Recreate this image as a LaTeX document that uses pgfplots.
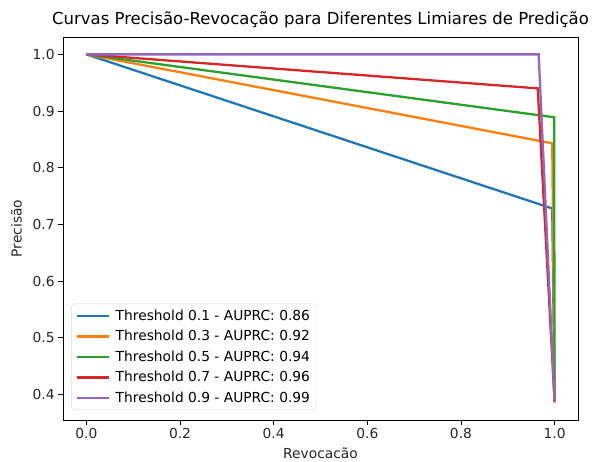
\documentclass[border=0pt]{standalone}
\usepackage{pgfplots}
\pgfplotsset{compat=1.18}
\usetikzlibrary{calc}
\usepackage{fontspec}
\setmainfont{DejaVu Sans}
\definecolor{tabblue}{HTML}{1F77B4}
\definecolor{taborange}{HTML}{FF7F0E}
\definecolor{tabgreen}{HTML}{2CA02C}
\definecolor{tabred}{HTML}{D62728}
\definecolor{tabpurple}{HTML}{9467BD}
\begin{document}
\begin{tikzpicture}[x=1pt,y=1pt]
\begin{axis}[
  name=ax,
  scale only axis,
  width=515pt, height=383pt,
  xmin=-0.05, xmax=1.05,
  ymin=0.3546, ymax=1.0307,
  xtick={0,0.2,...,1.0},
  ytick={0.4,0.5,...,1.0},
  xticklabel style={/pgf/number format/fixed,/pgf/number format/fixed zerofill,/pgf/number format/precision=1},
  yticklabel style={/pgf/number format/fixed,/pgf/number format/fixed zerofill,/pgf/number format/precision=1},
  /pgf/number format/assume math mode=true,
  tick label style={font=\fontsize{13.8}{16}\selectfont, color=black!85},
  label style={font=\fontsize{13.8}{16}\selectfont, color=black!85},
  title style={font=\fontsize{16.5}{19}\selectfont, yshift=0pt},
  tick align=outside,
  tick pos=left,
  major tick length=4.9pt,
  every tick/.style={black, line width=0.8pt},
  axis line style={line width=0.8pt},
  title={Curvas Precisão-Revocação para Diferentes Limiares de Predição},
  xlabel={Revocacão},
  ylabel={Precisão},
  xlabel style={yshift=-2pt},
  ylabel style={yshift=4pt},
  legend style={at={(0.016,0.026)}, anchor=south west, font=\fontsize{13.8}{16}\selectfont,
    draw=black!15, rounded corners=3pt, fill=white, fill opacity=0.8, text opacity=1,
    row sep=4.5pt, column sep=4pt, inner xsep=4pt, inner ysep=4pt},
  legend cell align=left,
  legend image code/.code={\draw[#1, line width=2.3pt] (0pt,0pt) -- (32pt,0pt);},
  every axis plot/.append style={line width=2.3pt, line join=miter},
]
\addplot[tabblue] coordinates {(0,1) (0.995,0.728) (1,0.386)};
\addlegendentry{Threshold 0.1 - AUPRC: 0.86}
\addplot[taborange] coordinates {(0,1) (0.995,0.843) (1,0.386)};
\addlegendentry{Threshold 0.3 - AUPRC: 0.92}
\addplot[tabgreen] coordinates {(0,1) (0.999,0.889) (1,0.386)};
\addlegendentry{Threshold 0.5 - AUPRC: 0.94}
\addplot[tabred] coordinates {(0,1) (0.964,0.940) (1,0.386)};
\addlegendentry{Threshold 0.7 - AUPRC: 0.96}
\addplot[tabpurple] coordinates {(0,1) (0.966,1.0) (1,0.386)};
\addlegendentry{Threshold 0.9 - AUPRC: 0.99}
\end{axis}
\pgfresetboundingbox
\path (ax.south west) ++(-63pt,-42pt) rectangle ($(ax.north east)+(24pt,37pt)$);
\end{tikzpicture}
\end{document}
